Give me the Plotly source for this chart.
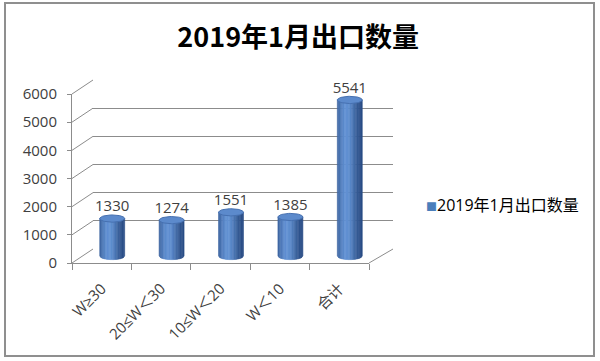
import numpy as np
import plotly.graph_objects as go

categories = ["W≥30", "20≤W＜30", "10≤W＜20", "W＜10", "合计"]
values = [1330, 1274, 1551, 1385, 5541]
series_name = "2019年1月出口数量"
title_text = "2019年1月出口数量"
y_ticks = [0, 1000, 2000, 3000, 4000, 5000, 6000]

W, H = 600, 361
YMAX = 6000

def px(x):
    return x / W

def py(y):
    return 1 - y / H

# front plane (pixels)
FX0, FX1 = 72, 369
FY0, FY1 = 263, 94
DX, DY = 21, -14
PPU = (FY0 - FY1) / YMAX  # pixels per unit

GRID = "#8c8c8c"
TXT = "#404040"
FONT = "Open Sans, Noto Sans CJK SC, sans-serif"

fig = go.Figure()

# invisible anchor traces for axes
fig.add_trace(go.Scatter(x=categories, y=values, mode="markers", marker=dict(opacity=0),
                         hoverinfo="skip", showlegend=False, xaxis="x", yaxis="y"))
fig.add_trace(go.Scatter(x=[0], y=[0], mode="markers", marker=dict(opacity=0),
                         hoverinfo="skip", showlegend=False, xaxis="x2", yaxis="y2"))

# cylinders on mid-depth plane
NEG = 300
hw = 0.21
b = 3.6 / PPU
N = 18
edges = np.linspace(-hw, hw, N + 1)

def shade(t):
    # t in [-1,1] across cylinder; brightness peak left of centre
    dark = np.array([38, 72, 128])
    light = np.array([98, 146, 212])
    w = np.exp(-((t + 0.25) / 0.75) ** 2)
    c = dark + (light - dark) * w
    return "rgb(%d,%d,%d)" % tuple(c.astype(int))

for k in range(N):
    xl, xr = edges[k], edges[k + 1]
    xs_all, ys_all = [], []
    for i, v in enumerate(values):
        xx = np.linspace(xl, xr, 4)
        yb = -b * np.sqrt(np.clip(1 - (xx / hw) ** 2, 0, 1))
        xs = list(i + xx) + [i + xr, i + xl, i + xl]
        ys = list(yb) + [v, v, yb[0]]
        xs_all += xs + [None]
        ys_all += ys + [None]
    tmid = (xl + xr) / 2 / hw
    col = shade(tmid)
    fig.add_trace(go.Scatter(x=xs_all, y=ys_all, fill="toself", fillcolor=col,
                             mode="lines", line=dict(width=0.6, color=col),
                             hoverinfo="skip", showlegend=False, xaxis="x3", yaxis="y3"))

# top ellipses
th = np.linspace(0, 2 * np.pi, 60)
ex, ey = [], []
for i, v in enumerate(values):
    ex += list(i + hw * np.cos(th)) + [None]
    ey += list(v + b * np.sin(th)) + [None]
fig.add_trace(go.Scatter(x=ex, y=ey, fill="toself", fillcolor="rgb(92,138,204)",
                         mode="lines", line=dict(width=1, color="rgb(70,112,176)"),
                         hoverinfo="skip", showlegend=False, xaxis="x3", yaxis="y3"))

# data labels
fig.add_trace(go.Scatter(x=list(range(len(values))), y=[v + b for v in values],
                         mode="text", text=[str(v) for v in values],
                         textposition="top center",
                         textfont=dict(size=15, color=TXT, family=FONT),
                         hoverinfo="skip", showlegend=False, xaxis="x3", yaxis="y3",
                         cliponaxis=False))

# depth connectors and floor edge
shapes = []
for t in y_ticks:
    yf = FY0 - t * PPU
    shapes.append(dict(type="line", xref="paper", yref="paper",
                       x0=px(FX0), y0=py(yf), x1=px(FX0 + DX), y1=py(yf + DY),
                       line=dict(color=GRID, width=1), layer="below"))
shapes.append(dict(type="line", xref="paper", yref="paper",
                   x0=px(FX1), y0=py(FY0), x1=px(FX1 + DX + 3), y1=py(FY0 + DY),
                   line=dict(color=GRID, width=1), layer="below"))
# outer border
shapes.append(dict(type="rect", xref="paper", yref="paper",
                   x0=px(5), y0=py(356), x1=px(594), y1=py(3),
                   line=dict(color="#8f8f8f", width=2), layer="below"))

mid_y0 = FY0 + DY / 2 + NEG * PPU
mid_y1 = FY1 + DY / 2

fig.update_layout(
    width=W, height=H,
    margin=dict(l=0, r=0, t=0, b=0),
    paper_bgcolor="white", plot_bgcolor="rgba(0,0,0,0)",
    showlegend=False,
    font=dict(family=FONT, color=TXT, size=14),
    title=dict(text="<b>" + title_text + "</b>", x=0.497, xanchor="center",
               y=py(38), yanchor="middle", yref="paper", automargin=False,
               font=dict(size=27, color="black", family="Noto Sans CJK SC")),
    xaxis=dict(domain=[px(FX0), px(FX1)], type="category", categoryorder="array",
               categoryarray=categories, range=[-0.5, 4.5], tickson="boundaries",
               ticks="outside", ticklen=6, tickcolor=GRID, showline=True, linecolor=GRID,
               showgrid=False, zeroline=False, tickangle=-45, automargin=False,
               ticklabelstandoff=10,
               tickfont=dict(size=15, color=TXT), anchor="y", fixedrange=True),
    yaxis=dict(domain=[py(FY0), py(FY1)], range=[0, YMAX], tickvals=y_ticks,
               ticks="outside", ticklen=4, tickcolor=GRID, showline=True, linecolor=GRID,
               showgrid=False, zeroline=False, tickfont=dict(size=15, color=TXT),
               ticklabelstandoff=7,
               automargin=False, anchor="x", fixedrange=True),
    xaxis2=dict(domain=[px(FX0 + DX), px(FX1 + DX + 3)], range=[-0.5, 4.5],
                showgrid=False, zeroline=False, showticklabels=False, ticks="",
                showline=False, anchor="y2", fixedrange=True, automargin=False),
    yaxis2=dict(domain=[py(FY0 + DY), py(FY1 + DY)], range=[0, YMAX], tickvals=y_ticks,
                showgrid=True, gridcolor=GRID, gridwidth=1, zeroline=False,
                showticklabels=False, ticks="", showline=False, anchor="x2",
                fixedrange=True, automargin=False),
    xaxis3=dict(domain=[px(FX0 + DX / 2), px(FX1 + DX / 2)], range=[-0.5, 4.5],
                visible=False, anchor="y3", fixedrange=True, automargin=False),
    yaxis3=dict(domain=[py(mid_y0), py(mid_y1)], range=[-NEG, YMAX],
                visible=False, anchor="x3", fixedrange=True, automargin=False),
    shapes=shapes,
    annotations=[dict(xref="paper", yref="paper", x=px(424), y=py(205),
                      xanchor="left", yanchor="middle", showarrow=False,
                      text="<span style='color:#4a7ebb;font-size:11px'>■</span>" + series_name,
                      font=dict(size=16, color="black", family=FONT))],
)

fig.write_html("out.html")
